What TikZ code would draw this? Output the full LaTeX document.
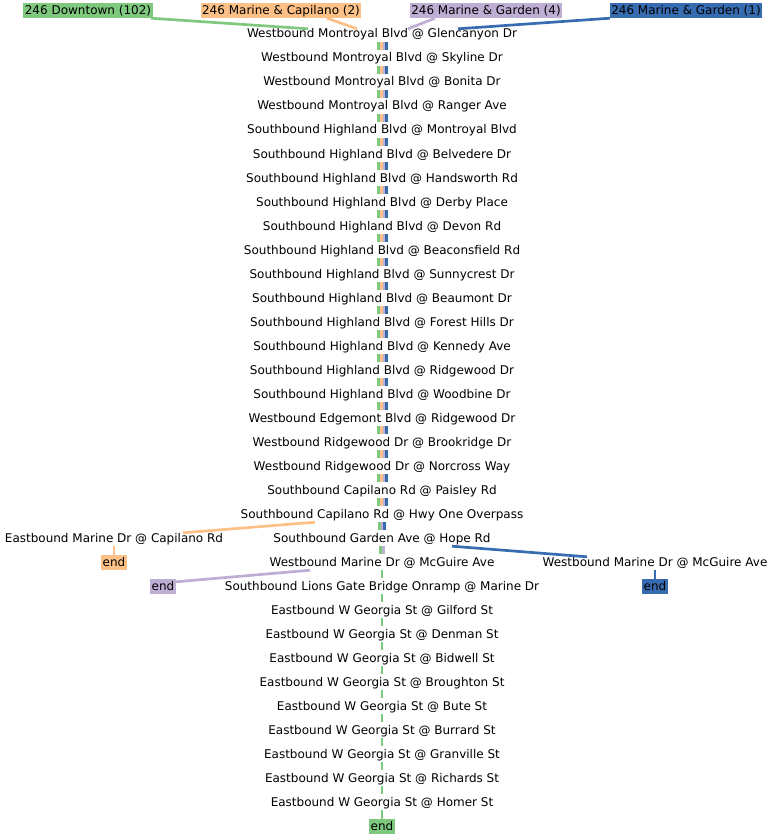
\documentclass[tikz,border=0pt]{standalone}
\usepackage{fontspec}
\setmainfont{DejaVu Sans}
\definecolor{rtgreen}{HTML}{7FC97F}
\definecolor{rtorange}{HTML}{FDC086}
\definecolor{rtpurple}{HTML}{BEAED4}
\definecolor{rtblue}{HTML}{386CB0}
\tikzset{
  stop/.style={font=\fontsize{12}{14}\selectfont, inner sep=0pt, minimum height=16pt, text height=9pt, text depth=1pt},
  route/.style={stop, fill=#1, inner xsep=1.5pt, minimum height=15pt},
  leg/.style={draw=#1, line width=2.7pt},
}
\begin{document}
\begin{tikzpicture}[x=1pt,y=-1pt]
\useasboundingbox (0,0) rectangle (774,840);
% route labels
\node[route=rtgreen] (hdown) at (88,10.5) {246 Downtown (102)};
\node[route=rtorange] (hcap) at (281,10.5) {246 Marine \& Capilano (2)};
\node[route=rtpurple] (hgarden4) at (486,10.5) {246 Marine \& Garden (4)};
\node[route=rtblue] (hgarden1) at (686,10.5) {246 Marine \& Garden (1)};
% main line of stops
\node[stop] (glencanyon) at (382,34) {Westbound Montroyal Blvd @ Glencanyon Dr};
\node[stop] (skyline) at (382,58) {Westbound Montroyal Blvd @ Skyline Dr};
\node[stop] (bonita) at (382,82) {Westbound Montroyal Blvd @ Bonita Dr};
\node[stop] (ranger) at (382,106) {Westbound Montroyal Blvd @ Ranger Ave};
\node[stop] (montroyal) at (382,130) {Southbound Highland Blvd @ Montroyal Blvd};
\node[stop] (belvedere) at (382,154) {Southbound Highland Blvd @ Belvedere Dr};
\node[stop] (handsworth) at (382,178) {Southbound Highland Blvd @ Handsworth Rd};
\node[stop] (derby) at (382,202) {Southbound Highland Blvd @ Derby Place};
\node[stop] (devon) at (382,226) {Southbound Highland Blvd @ Devon Rd};
\node[stop] (beaconsfield) at (382,250) {Southbound Highland Blvd @ Beaconsfield Rd};
\node[stop] (sunnycrest) at (382,274) {Southbound Highland Blvd @ Sunnycrest Dr};
\node[stop] (beaumont) at (382,298) {Southbound Highland Blvd @ Beaumont Dr};
\node[stop] (foresthills) at (382,322) {Southbound Highland Blvd @ Forest Hills Dr};
\node[stop] (kennedy) at (382,346) {Southbound Highland Blvd @ Kennedy Ave};
\node[stop] (ridgewood) at (382,370) {Southbound Highland Blvd @ Ridgewood Dr};
\node[stop] (woodbine) at (382,394) {Southbound Highland Blvd @ Woodbine Dr};
\node[stop] (edgemont) at (382,418) {Westbound Edgemont Blvd @ Ridgewood Dr};
\node[stop] (brookridge) at (382,442) {Westbound Ridgewood Dr @ Brookridge Dr};
\node[stop] (norcross) at (382,466) {Westbound Ridgewood Dr @ Norcross Way};
\node[stop] (paisley) at (382,490) {Southbound Capilano Rd @ Paisley Rd};
\node[stop] (hwyone) at (382,514) {Southbound Capilano Rd @ Hwy One Overpass};
\node[stop] (hope) at (382,538) {Southbound Garden Ave @ Hope Rd};
\node[stop] (mcguire) at (382,562) {Westbound Marine Dr @ McGuire Ave};
\node[stop] (lionsgate) at (382,586) {Southbound Lions Gate Bridge Onramp @ Marine Dr};
\node[stop] (gilford) at (382,610) {Eastbound W Georgia St @ Gilford St};
\node[stop] (denman) at (382,634) {Eastbound W Georgia St @ Denman St};
\node[stop] (bidwell) at (382,658) {Eastbound W Georgia St @ Bidwell St};
\node[stop] (broughton) at (382,682) {Eastbound W Georgia St @ Broughton St};
\node[stop] (bute) at (382,706) {Eastbound W Georgia St @ Bute St};
\node[stop] (burrard) at (382,730) {Eastbound W Georgia St @ Burrard St};
\node[stop] (granville) at (382,754) {Eastbound W Georgia St @ Granville St};
\node[stop] (richards) at (382,778) {Eastbound W Georgia St @ Richards St};
\node[stop] (homer) at (382,802) {Eastbound W Georgia St @ Homer St};
\node[route=rtgreen] (endgreen) at (382,826.5) {end};
% branches
\node[stop] (capilano) at (114,538) {Eastbound Marine Dr @ Capilano Rd};
\node[route=rtorange] (endorange) at (114,562.5) {end};
\node[route=rtpurple] (endpurple) at (163,586.5) {end};
\node[stop] (mcguirew) at (655,562) {Westbound Marine Dr @ McGuire Ave};
\node[route=rtblue] (endblue) at (655,586.5) {end};

% route labels to first stop
\draw[leg=rtgreen] ([xshift=-2pt]hdown.south east) -- ([xshift=-74pt,yshift=-3pt]glencanyon.north);
\draw[leg=rtorange] ([xshift=46pt]hcap.south) -- ([xshift=-25pt,yshift=-3pt]glencanyon.north);
\draw[leg=rtpurple] ([xshift=-51pt]hgarden4.south) -- ([xshift=26pt,yshift=-3pt]glencanyon.north);
\draw[leg=rtblue] ([xshift=-76pt]hgarden1.south) -- ([xshift=76pt,yshift=-3pt]glencanyon.north);

% shared trunk, four routes side by side
\foreach \a/\b in {glencanyon/skyline, skyline/bonita, bonita/ranger, ranger/montroyal,
    montroyal/belvedere, belvedere/handsworth, handsworth/derby, derby/devon,
    devon/beaconsfield, beaconsfield/sunnycrest, sunnycrest/beaumont,
    beaumont/foresthills, foresthills/kennedy, kennedy/ridgewood, ridgewood/woodbine,
    woodbine/edgemont, edgemont/brookridge, brookridge/norcross, norcross/paisley,
    paisley/hwyone}
  \foreach \c/\dx in {rtgreen/-3.5, rtorange/-0.8, rtpurple/1.9, rtblue/4.6}
    \draw[leg=\c] ([xshift=\dx pt]\a.south) -- ([xshift=\dx pt]\b.north);

% orange leaves
\draw[leg=rtorange] ([xshift=-67pt]hwyone.south) -- ([xshift=69pt,yshift=-3pt]capilano.north);
\draw[leg=rtorange] (capilano.south) -- (endorange.north);
\draw[leg=rtgreen] ([xshift=-2.7pt]hwyone.south) -- ([xshift=-2.7pt]hope.north);
\draw[leg=rtpurple] (hwyone.south) -- (hope.north);
\draw[leg=rtblue] ([xshift=2.7pt]hwyone.south) -- ([xshift=2.7pt]hope.north);
% blue leaves
\draw[leg=rtblue] ([xshift=70pt]hope.south) -- ([xshift=-68pt,yshift=-3pt]mcguirew.north);
\draw[leg=rtblue] (mcguirew.south) -- (endblue.north);
\draw[leg=rtgreen] ([xshift=-1.3pt]hope.south) -- ([xshift=-1.3pt]mcguire.north);
\draw[leg=rtpurple] ([xshift=1.3pt]hope.south) -- ([xshift=1.3pt]mcguire.north);
% purple leaves
\draw[leg=rtpurple] ([xshift=-72pt]mcguire.south) -- ([yshift=-3pt]endpurple.north east);
% green goes on alone
\foreach \a/\b in {mcguire/lionsgate, lionsgate/gilford, gilford/denman, denman/bidwell,
    bidwell/broughton, broughton/bute, bute/burrard, burrard/granville,
    granville/richards, richards/homer, homer/endgreen}
  \draw[leg=rtgreen] (\a.south) -- (\b.north);
\end{tikzpicture}
\end{document}
